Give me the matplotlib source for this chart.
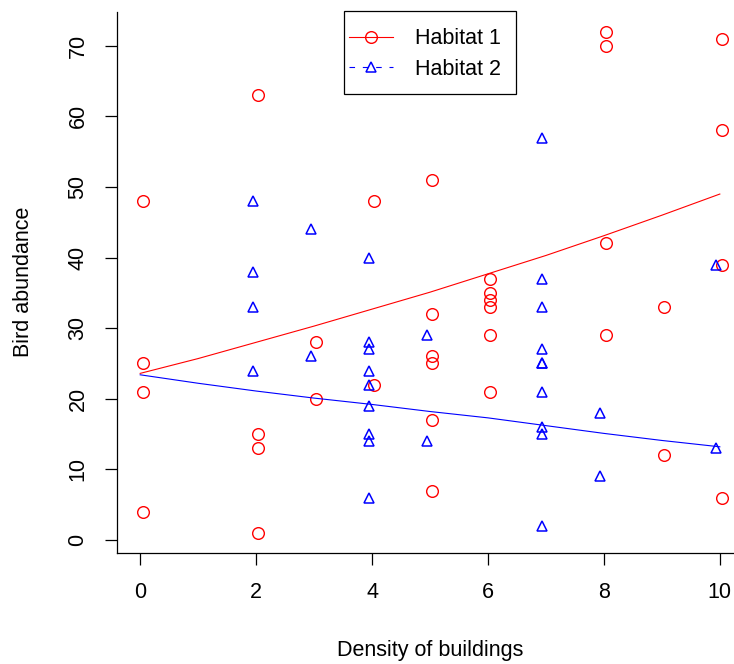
import matplotlib
matplotlib.use('Agg')
import matplotlib.pyplot as plt
from matplotlib.patches import Rectangle

plt.rcParams['font.family'] = ['Liberation Sans', 'DejaVu Sans']

# Habitat 1 (red circles)
h1_x = [0, 0, 0, 0,
        2, 2, 2, 2,
        3, 3,
        4, 4,
        5, 5, 5, 5, 5, 5,
        6, 6, 6, 6, 6, 6,
        8, 8, 8, 8,
        9, 9,
        10, 10, 10, 10]
h1_y = [48, 25, 21, 4,
        63, 15, 13, 1,
        28, 20,
        48, 22,
        51, 32, 26, 25, 17, 7,
        37, 35, 34, 33, 29, 21,
        72, 70, 42, 29,
        33, 12,
        71, 58, 39, 6]

# Habitat 2 (blue triangles)
h2_x = [2, 2, 2, 2,
        3, 3,
        4, 4, 4, 4, 4, 4, 4, 4, 4,
        5, 5,
        7, 7, 7, 7, 7, 7, 7, 7, 7, 7,
        8, 8,
        10, 10]
h2_y = [48, 38, 33, 24,
        44, 26,
        40, 28, 27, 24, 22, 19, 15, 14, 6,
        29, 14,
        57, 37, 33, 27, 25, 25, 21, 16, 15, 2,
        18, 9,
        39, 13]

# fitted curves
fit_x = [0, 1, 2, 3, 4, 5, 6, 7, 8, 9, 10]
fit1_y = [23.6, 25.7, 28.0, 30.3, 32.7, 35.1, 37.7, 40.3, 43.1, 46.0, 49.0]
fit2_y = [23.4, 22.2, 21.1, 20.1, 19.2, 18.2, 17.3, 16.2, 15.1, 14.1, 13.2]

fig = plt.figure(figsize=(7.34, 6.64), dpi=100)
ax = fig.add_axes([117/734, 111/664, 626/734, 541.4/664])

ax.plot([x + 0.04 for x in h1_x], h1_y, 'o', ls='none', mfc='none', mec='red',
        ms=8.4, mew=1.0)
ax.plot([x - 0.06 for x in h2_x], h2_y, '^', ls='none', mfc='none', mec='blue',
        ms=7.6, mew=1.1)
ax.plot(fit_x, fit1_y, color='red', lw=0.8)
ax.plot(fit_x, fit2_y, color='blue', lw=0.8)

ax.set_xlim(-0.4, 10.4)
ax.set_ylim(-1.84, 74.84)
ax.set_xticks(range(0, 11, 2))
ax.set_yticks(range(0, 71, 10))
ax.spines['top'].set_visible(False)
ax.spines['right'].set_visible(False)
for s in ['left', 'bottom']:
    ax.spines[s].set_linewidth(0.9)
ax.tick_params(direction='out', length=8.6, width=0.9, labelsize=15.5, pad=12)
ax.tick_params(axis='y', labelrotation=90)
for lab in ax.get_yticklabels():
    lab.set_va('center')

ax.set_xlabel('Density of buildings', fontsize=15.5, labelpad=27)
ax.set_ylabel('Bird abundance', fontsize=15.5, labelpad=24)

# legend (frame drawn separately, like R's legend box)
l1, = ax.plot([], [], color='red', lw=0.8, marker='o', mfc='none', mec='red', ms=8.4, mew=1.0)
l2, = ax.plot([], [], color='blue', lw=0.8, ls=(0, (5, 7)), marker='^', mfc='none', mec='blue', ms=7.6, mew=1.1)
leg = fig.legend([l1, l2], ['Habitat 1', 'Habitat 2'], loc='upper left',
                 bbox_to_anchor=(349/734, 1 - 28.5/664), fontsize=15.5, frameon=False,
                 handlelength=2.05, handletextpad=1.0, labelspacing=0.42,
                 borderpad=0, borderaxespad=0)
fig.patches.append(Rectangle((344/734, 1 - 94/664), 172/734, 83/664, transform=fig.transFigure,
                             fill=False, edgecolor='black', lw=0.9, figure=fig))

fig.savefig('out.png', dpi=100)
